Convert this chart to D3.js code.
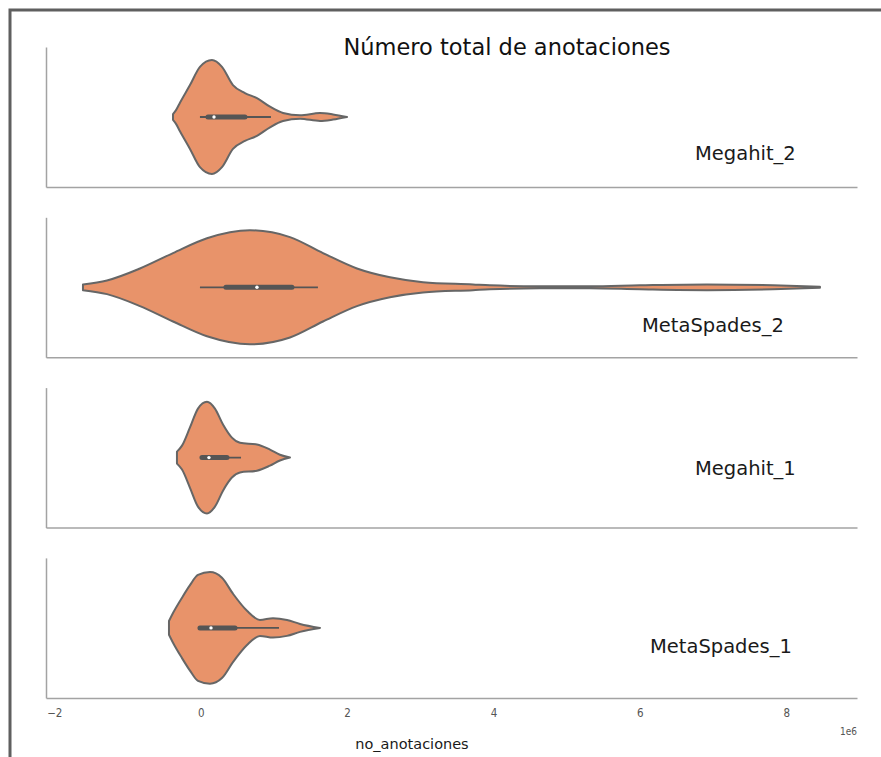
<!DOCTYPE html>
<html>
<head>
<meta charset="utf-8">
<script src="https://cdn.jsdelivr.net/npm/d3@7"></script>
<style>
    body { margin: 0; background: #fff; }
    svg { display: block; }
</style>
</head>
<body>
<div id="chart"></div>
<script>
// data ---------------------------------------------------------------------
const groups = ["Megahit_2", "MetaSpades_2", "Megahit_1", "MetaSpades_1"];

// violin profiles: value (x 1e6) and relative half-width
const megahit2Values = [-0.378, -0.337, -0.283, -0.146, -0.010, 0.154, 0.291, 0.441, 0.605, 0.769, 0.947, 1.125, 1.357, 1.630, 1.808, 1.999];
const megahit2Density = [0.05, 0.12, 0.25, 0.56, 0.88, 1.0, 0.88, 0.56, 0.42, 0.33, 0.18, 0.07, 0.03, 0.07, 0.045, 0.0];

const metaspades2Values = [-1.608, -1.280, -0.829, -0.378, 0.086, 0.673, 1.220, 1.671, 2.135, 2.586, 3.037, 3.720, 3.952, 4.635, 5.318, 6.001, 6.917, 7.818, 8.460];
const metaspades2Density = [0.05, 0.12, 0.33, 0.6, 0.86, 1.0, 0.88, 0.6, 0.33, 0.175, 0.09, 0.05, 0.035, 0.018, 0.018, 0.035, 0.05, 0.035, 0.01];

const megahit1Values = [-0.324, -0.255, -0.146, -0.037, 0.086, 0.195, 0.305, 0.427, 0.537, 0.769, 0.947, 1.083, 1.220];
const megahit1Density = [0.105, 0.21, 0.53, 0.86, 0.98, 0.86, 0.58, 0.35, 0.26, 0.23, 0.14, 0.05, 0.0];

const metaspades1Values = [-0.433, -0.378, -0.255, -0.146, -0.037, 0.127, 0.291, 0.441, 0.633, 0.810, 0.988, 1.179, 1.357, 1.630];
const metaspades1Density = [0.12, 0.26, 0.53, 0.75, 0.93, 0.98, 0.88, 0.6, 0.3, 0.14, 0.17, 0.14, 0.07, 0.0];

// inner box stats per group (x 1e6)
const whiskerLow = [-0.010, -0.010, 0.018, -0.010];
const q1 = [0.100, 0.345, 0.018, -0.010];
const medians = [0.182, 0.769, 0.113, 0.141];
const q3 = [0.605, 1.247, 0.359, 0.469];
const whiskerHigh = [0.960, 1.602, 0.551, 1.070];

const xTicks = [-2, 0, 2, 4, 6, 8];
const xDomain = [-2.113, 8.966];

const title = "Número total de anotaciones";
const xLabel = "no_anotaciones";

// layout -------------------------------------------------------------------
const svgWidth = 881;
const svgHeight = 757;
const plotLeft = 46;
const plotRight = 857;
const panelTop = 47;
const panelStep = 170.3;
const panelHeight = 140;
const maxHalfWidth = 57;

// where each group name sits relative to the panel (x, baseline from top)
const labelOffset = [[695, 113], [642, 115], [695, 87], [650, 95]];

const fillColor = "#e8936a";
const edgeColor = "#666666";
const boxColor = "#555555";
const spineColor = "#a3a3a3";

const profiles = [
    megahit2Values.map((v, i) => [v, megahit2Density[i]]),
    metaspades2Values.map((v, i) => [v, metaspades2Density[i]]),
    megahit1Values.map((v, i) => [v, megahit1Density[i]]),
    metaspades1Values.map((v, i) => [v, metaspades1Density[i]])
];

const svg = d3.select("#chart").append("svg")
    .attr("width", svgWidth)
    .attr("height", svgHeight);

svg.append("rect")
    .attr("width", svgWidth)
    .attr("height", svgHeight)
    .attr("fill", "#fff");

// screenshot frame on the top and left
svg.append("path")
    .attr("d", `M10,${svgHeight} V10 H${svgWidth}`)
    .attr("fill", "none")
    .attr("stroke", "#5f5f5f")
    .attr("stroke-width", 3);

const x = d3.scaleLinear()
    .domain(xDomain)
    .range([plotLeft, plotRight]);

const w = d3.scaleLinear()
    .domain([0, 1])
    .range([0, maxHalfWidth]);

groups.forEach((name, i) => {
    const top = panelTop + i * panelStep;
    const y = d3.scaleLinear().domain([0, 1]).range([top + panelHeight, top]);
    const cy = top + panelHeight / 2;

    const panel = svg.append("g").classed("panel", true);

    // spines
    panel.append("g")
        .attr("transform", `translate(0, ${top + panelHeight})`)
        .call(d3.axisBottom(x).tickValues([]).tickSizeOuter(0))
        .call(g => g.select(".domain").attr("stroke", spineColor).attr("stroke-width", 1.5));

    panel.append("g")
        .attr("transform", `translate(${plotLeft}, 0)`)
        .call(d3.axisLeft(y).tickValues([]).tickSizeOuter(0))
        .call(g => g.select(".domain").attr("stroke", spineColor).attr("stroke-width", 1.5));

    // violin body
    const area = d3.area()
        .x(d => x(d[0]))
        .y0(d => cy + w(d[1]))
        .y1(d => cy - w(d[1]))
        .curve(d3.curveMonotoneX);

    panel.append("path")
        .datum(profiles[i])
        .attr("d", area)
        .attr("fill", fillColor)
        .attr("stroke", edgeColor)
        .attr("stroke-width", 2)
        .attr("stroke-linejoin", "round");

    // inner box
    panel.append("line")
        .attr("x1", x(whiskerLow[i]))
        .attr("x2", x(whiskerHigh[i]))
        .attr("y1", cy)
        .attr("y2", cy)
        .attr("stroke", boxColor)
        .attr("stroke-width", 1.8);

    panel.append("line")
        .attr("x1", x(q1[i]))
        .attr("x2", x(q3[i]))
        .attr("y1", cy)
        .attr("y2", cy)
        .attr("stroke", boxColor)
        .attr("stroke-width", 5)
        .attr("stroke-linecap", "round");

    panel.append("circle")
        .attr("cx", x(medians[i]))
        .attr("cy", cy)
        .attr("r", 1.7)
        .attr("fill", "#fff");

    // group name
    panel.append("text")
        .attr("x", labelOffset[i][0])
        .attr("y", top + labelOffset[i][1])
        .attr("font-family", "DejaVu Sans, sans-serif")
        .attr("font-size", "19.5px")
        .attr("fill", "#1a1a1a")
        .text(name);

    // tick labels only on the last panel
    if (i === groups.length - 1) {
        panel.append("g")
            .attr("transform", `translate(0, ${top + panelHeight})`)
            .call(d3.axisBottom(x).tickValues(xTicks).tickSize(0).tickPadding(11).tickFormat(d3.format("d")))
            .call(g => g.select(".domain").remove())
            .call(g => g.selectAll("text")
                .attr("font-family", "Liberation Sans Narrow, DejaVu Sans Condensed, sans-serif")
                .attr("font-size", "11.5px")
                .attr("fill", "#555"));
    }
});

svg.append("text")
    .attr("x", plotRight)
    .attr("y", 735)
    .attr("text-anchor", "end")
    .attr("font-family", "Liberation Sans Narrow, DejaVu Sans Condensed, sans-serif")
    .attr("font-size", "10px")
    .attr("fill", "#555")
    .text("1e6");

svg.append("text")
    .attr("x", 412)
    .attr("y", 749)
    .attr("text-anchor", "middle")
    .attr("font-family", "DejaVu Sans, sans-serif")
    .attr("font-size", "14.5px")
    .attr("fill", "#1a1a1a")
    .text(xLabel);

svg.append("text")
    .attr("x", 507)
    .attr("y", 55)
    .attr("text-anchor", "middle")
    .attr("font-family", "DejaVu Sans, sans-serif")
    .attr("font-size", "22.5px")
    .attr("fill", "#111")
    .text(title);
</script>
</body>
</html>
